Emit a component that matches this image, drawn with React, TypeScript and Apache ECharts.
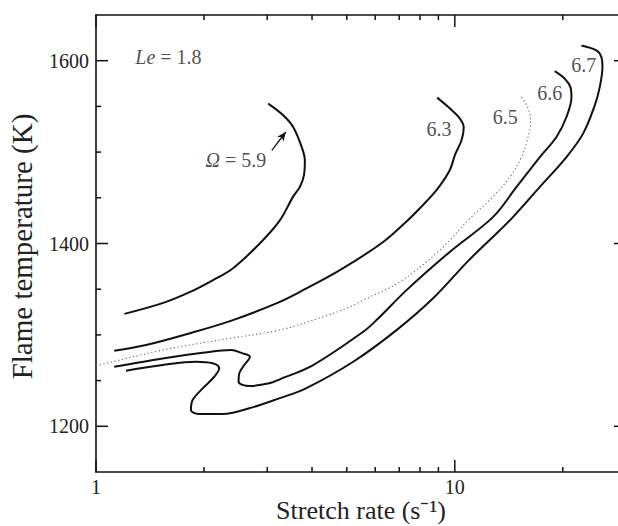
import React, { useEffect, useRef } from "react";
import * as echarts from "echarts";

// Flame temperature (K) vs stretch rate (1/s), Le = 1.8
const omega59: [number, number][] = [
  [1.2, 1323], [1.54, 1335], [1.83, 1347], [2.12, 1360], [2.41, 1373], [2.86, 1400],
  [3.25, 1425], [3.54, 1451], [3.7, 1462], [3.8, 1475], [3.82, 1491], [3.74, 1506],
  [3.55, 1527], [3.33, 1540], [3.02, 1553],
];
const omega63: [number, number][] = [
  [1.124, 1282.6], [1.378, 1288.9], [1.819, 1301.6], [2.408, 1316.2], [3.193, 1334.8],
  [3.7, 1347.1], [4.783, 1370.8], [6.315, 1401.7], [7.397, 1425.5], [7.99, 1438.6],
  [8.89, 1458.3], [9.68, 1480.1], [10.0, 1496.5], [10.44, 1512.9], [10.59, 1527.1],
  [10.32, 1536.9], [9.68, 1547.9], [8.93, 1559.6],
];
const omega65: [number, number][] = [
  [1.0, 1266], [1.021, 1267], [1.534, 1283.4], [2.351, 1296.2], [3.24, 1305.2], [4.297, 1319.8],
  [5.1, 1330.7], [5.555, 1338], [7.028, 1358], [9.08, 1392.7], [11.01, 1427.3],
  [12.76, 1450.9], [14.23, 1472.8], [15.34, 1494.6], [16.0, 1516.5], [16.28, 1532.9],
  [16.0, 1547.9], [15.34, 1560.2],
];
const omega66: [number, number][] = [
  [1.124, 1265.1], [1.534, 1274.3], [1.983, 1280.4], [2.377, 1283.4], [2.563, 1279.8],
  [2.685, 1276.1], [2.589, 1267], [2.507, 1257.9], [2.497, 1248.7], [2.673, 1244],
  [3.039, 1247], [3.254, 1251.4], [4.03, 1267], [5.555, 1303.4], [6.051, 1316.2],
  [7.336, 1349], [9.68, 1390.8], [12.79, 1429.1], [14.86, 1461.9], [17.26, 1494.6],
  [19.2, 1516.5], [20.47, 1538.4], [21.14, 1560.2], [21.0, 1571.1], [20.25, 1580.3],
  [18.99, 1588.6],
];
const omega67: [number, number][] = [
  [1.212, 1260.8], [1.534, 1267], [1.899, 1270.6], [2.114, 1268.9], [2.205, 1263.4],
  [2.136, 1254.2], [1.983, 1241.5], [1.859, 1228.7], [1.839, 1217.8], [1.94, 1213.4],
  [2.254, 1213.4], [2.673, 1219.7], [3.24, 1230.6], [3.846, 1241.5], [5.21, 1270.6],
  [6.88, 1305.2], [8.7, 1340], [10.9, 1381], [13.35, 1414.5], [14.54, 1429.1],
  [17.26, 1461.9], [20.47, 1494.6], [22.78, 1520.2], [24.55, 1551.1], [25.35, 1571.1],
  [25.79, 1593], [25.62, 1603.9], [24.81, 1611.3], [22.54, 1616.7],
];

const X_MIN = 1;
const X_MAX = 30;
const Y_MIN = 1150;
const Y_MAX = 1650;
const xMajorTicks = [1, 10];
const xMinorTicks = [2, 3, 4, 5, 6, 7, 8, 9, 20];
const yMajorTicks = [1200, 1400, 1600];
const yMinorTicks = [1250, 1300, 1350, 1450, 1500, 1550];

// annotation texts and their anchor points in data space
const annotationTexts = ["{i|Le} = 1.8", "{i|Ω} = 5.9", "6.3", "6.5", "6.6", "6.7"];
const annotationX = [1.592, 2.455, 9.03, 13.82, 18.4, 22.88];
const annotationY = [1603.6, 1491, 1524.9, 1538.4, 1564.6, 1594.9];
const arrowFrom: [number, number] = [3.09, 1502];
const arrowTo: [number, number] = [3.38, 1522];

const FONT = '"Liberation Serif", "Times New Roman", serif';
const INK = "#111";
const TEXT = "#222";

// tick lengths expressed on the axes' scales (~12 px major, ~5 px minor)
const X_TICK_MAJOR = 13.1; // K
const X_TICK_MINOR = 5.5; // K
const Y_TICK_MAJOR = 1.08; // factor on the log axis
const Y_TICK_MINOR = 1.033;

export default function App() {
  const ref = useRef<HTMLDivElement>(null);

  useEffect(() => {
    if (!ref.current) return;
    const chart = echarts.init(ref.current, undefined, { renderer: "svg" });

    const lineStyleAxis = { color: INK, width: 1.6 };
    const xAxisBase = (position: "bottom" | "top", withLabel: boolean) => ({
      type: "log" as const,
      logBase: 10,
      min: X_MIN,
      max: X_MAX,
      position,
      axisLine: { show: true, onZero: false, lineStyle: lineStyleAxis },
      axisTick: { show: false },
      axisLabel: {
        show: withLabel,
        customValues: xMajorTicks,
        margin: 5,
        color: TEXT,
        fontFamily: FONT,
        fontSize: 20,
        formatter: (v: number) => String(v),
      },
      splitLine: { show: false },
    });
    const yAxisBase = (position: "left" | "right", withLabel: boolean) => ({
      type: "value" as const,
      min: Y_MIN,
      max: Y_MAX,
      position,
      axisLine: { show: true, onZero: false, lineStyle: lineStyleAxis },
      axisTick: { show: false },
      axisLabel: {
        show: withLabel,
        customValues: yMajorTicks,
        margin: 7,
        color: TEXT,
        fontFamily: FONT,
        fontSize: 20,
        formatter: (v: number) => String(v),
      },
      splitLine: { show: false },
    });

    const curve = (data: [number, number][], dotted = false) => ({
      type: "line" as const,
      data,
      showSymbol: false,
      symbol: "none",
      smooth: 0.35,
      silent: true,
      lineStyle: dotted
        ? { color: "#666", width: 1.1, type: [1.2, 2.6] as number[] }
        : { color: INK, width: 2 },
    });

    // each tick mark is a two-point line series on the shared axes
    const tick = (a: [number, number], b: [number, number]) => ({
      type: "line" as const,
      data: [a, b],
      showSymbol: false,
      symbol: "none",
      silent: true,
      clip: false,
      z: 5,
      lineStyle: { color: INK, width: 1.5 },
    });
    const ticks: any[] = [];
    xMajorTicks.forEach((v) => {
      ticks.push(tick([v, Y_MIN], [v, Y_MIN + X_TICK_MAJOR]));
      ticks.push(tick([v, Y_MAX], [v, Y_MAX - X_TICK_MAJOR]));
    });
    xMinorTicks.forEach((v) => {
      ticks.push(tick([v, Y_MIN], [v, Y_MIN + X_TICK_MINOR]));
      ticks.push(tick([v, Y_MAX], [v, Y_MAX - X_TICK_MINOR]));
    });
    yMajorTicks.forEach((v) => {
      ticks.push(tick([X_MIN, v], [X_MIN * Y_TICK_MAJOR, v]));
      ticks.push(tick([X_MAX / Y_TICK_MAJOR, v], [X_MAX, v]));
    });
    yMinorTicks.forEach((v) => {
      ticks.push(tick([X_MIN, v], [X_MIN * Y_TICK_MINOR, v]));
      ticks.push(tick([X_MAX / Y_TICK_MINOR, v], [X_MAX, v]));
    });

    const annotations = annotationTexts.map((t, i) => ({
      value: [annotationX[i], annotationY[i]],
      name: t,
    }));

    chart.setOption({
      animation: false,
      backgroundColor: "#fff",
      grid: { left: 96, top: 15, right: -8, bottom: 54, containLabel: false, outerBoundsMode: "none" },
      xAxis: [
        {
          ...xAxisBase("bottom", true),
          name: "Stretch rate (s\u207B\u00B9)",
          nameLocation: "middle",
          nameMoveOverlap: false,
          nameGap: 26,
          nameTextStyle: { fontFamily: FONT, fontSize: 26, color: TEXT, lineHeight: 24 },
        },
        xAxisBase("top", false),
      ],
      yAxis: [
        {
          ...yAxisBase("left", true),
          name: "Flame temperature (K)",
          nameLocation: "middle",
          nameGap: 60,
          nameTextStyle: { fontFamily: FONT, fontSize: 29, color: TEXT, padding: [0, 6, 0, 0] },
        },
        yAxisBase("right", false),
      ],
      series: [
        {
          ...curve(omega59),
          markLine: {
            silent: true,
            symbol: ["none", "arrow"],
            symbolSize: [6, 9],
            label: { show: false },
            lineStyle: { type: "solid", color: INK, width: 1.3 },
            data: [[{ coord: arrowFrom }, { coord: arrowTo }]],
          },
        },
        curve(omega63),
        curve(omega65, true),
        curve(omega66),
        curve(omega67),
        ...ticks,
        {
          type: "scatter",
          data: annotations,
          symbolSize: 0,
          silent: true,
          label: {
            show: true,
            position: "inside",
            formatter: (p: any) => p.name,
            fontFamily: FONT,
            fontSize: 20,
            color: TEXT,
            rich: {
              i: { fontFamily: FONT, fontStyle: "italic", fontSize: 20, color: TEXT },
            },
          },
        },
      ],
    });

    return () => chart.dispose();
  }, []);

  return (
    <div
      ref={ref}
      style={{ position: "fixed", left: 0, top: 0, width: 618, height: 526, background: "#fff" }}
    />
  );
}
